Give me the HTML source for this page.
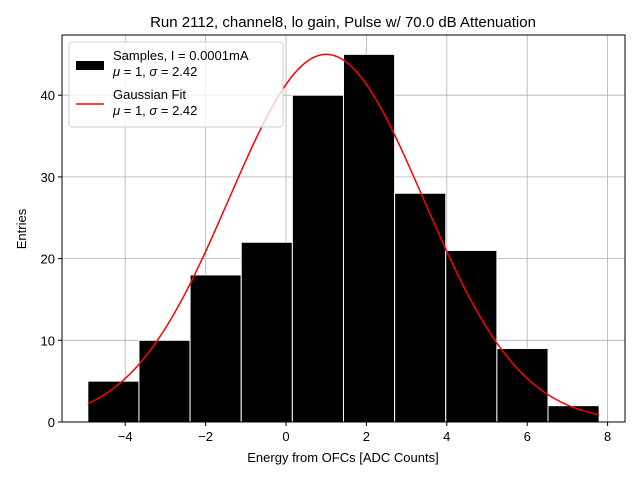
<!DOCTYPE html>
<html><head><meta charset="utf-8"><style>
body{margin:0;background:#fff;}
svg{font-family:"Liberation Sans","DejaVu Sans",sans-serif;}
</style></head><body>
<svg id="chart" width="640" height="480">
<rect width="640" height="480" fill="#fff"/>
<text x="343" y="27" font-size="15" text-anchor="middle">Run 2112, channel8, lo gain, Pulse w/ 70.0 dB Attenuation</text>
<g id="grid"></g>
<g id="bars"></g>
<path id="fit" fill="none" stroke="red" stroke-width="1.5"/>
<rect x="62" y="35" width="563" height="387" fill="none" stroke="#000" stroke-width="1"/>
<g id="ticks"></g>
<text x="343" y="462" font-size="13" text-anchor="middle">Energy from OFCs [ADC Counts]</text>
<text transform="translate(26,229) rotate(-90)" font-size="13" text-anchor="middle">Entries</text>
<g>
<rect x="69" y="42" width="214" height="85" rx="3" fill="#fff" fill-opacity="0.8" stroke="#ccc"/>
<rect x="76" y="61" width="28" height="9" fill="#000"/>
<text x="113" y="60" font-size="13">Samples, I = 0.0001mA</text>
<text x="113" y="76" font-size="13"><tspan font-style="italic">μ</tspan> = 1, <tspan font-style="italic">σ</tspan> = 2.42</text>
<line x1="76" y1="104" x2="104" y2="104" stroke="red" stroke-width="1.5"/>
<text x="113" y="99" font-size="13">Gaussian Fit</text>
<text x="113" y="115" font-size="13"><tspan font-style="italic">μ</tspan> = 1, <tspan font-style="italic">σ</tspan> = 2.42</text>
</g>
</svg>
<script>
const binStart = -4.93;
const binWidth = 1.272;
const counts = [5,10,18,22,40,45,28,21,9,2];
const xTicks = [-4,-2,0,2,4,6,8];
const yTicks = [0,10,20,30,40];
const fitMu = 1, fitSigma = 2.42, fitAmp = 45;

const X = v => 286 + v*40.2;
const Y = v => 422 - v*8.17;
const NS = "http://www.w3.org/2000/svg";
const mk = (t, a, p) => { const e = document.createElementNS(NS, t); for (const k in a) e.setAttribute(k, a[k]); p.appendChild(e); return e; };
const grid = document.getElementById('grid'), bars = document.getElementById('bars'), ticks = document.getElementById('ticks');

xTicks.forEach(v => {
  const g = mk('line', {x1:X(v), x2:X(v), y1:35, y2:422, stroke:'#b0b0b0', 'stroke-width':0.8}, grid);
  
  
  const t = mk('line', {x1:X(v), x2:X(v), y1:422, y2:426, stroke:'#000'}, ticks);
  
  
  const l = mk('text', {x:X(v), y:441, 'font-size':13, 'text-anchor':'middle'}, ticks);
  l.textContent = v < 0 ? '−' + Math.abs(v) : v;
  
  
});
yTicks.forEach(v => {
  const g = mk('line', {x1:62, x2:625, y1:Y(v), y2:Y(v), stroke:'#b0b0b0', 'stroke-width':0.8}, grid);
  
  
  const t = mk('line', {x1:58, x2:62, y1:Y(v), y2:Y(v), stroke:'#000'}, ticks);
  
  
  const l = mk('text', {x:55, y:Y(v)+5, 'font-size':13, 'text-anchor':'end'}, ticks);
  l.textContent = v;
  
  
});
counts.forEach((c, i) => {
  const x0 = X(binStart + i*binWidth), x1 = X(binStart + (i+1)*binWidth);
  const r = mk('rect', {x:x0, y:Y(c), width:x1-x0, height:Y(0)-Y(c), fill:'#000', stroke:'#fff', 'stroke-width':1}, bars);
  
  
});
const lo = binStart, hi = binStart + counts.length*binWidth;
let d = '';
for (let i = 0; i <= 200; i++) {
  const x = lo + (hi-lo)*i/200;
  const y = fitAmp*Math.exp(-((x-fitMu)**2)/(2*fitSigma*fitSigma));
  d += (i ? 'L' : 'M') + X(x).toFixed(2) + ',' + Y(y).toFixed(2);
}
document.getElementById('fit').setAttribute('d', d);
</script>
</body></html>
